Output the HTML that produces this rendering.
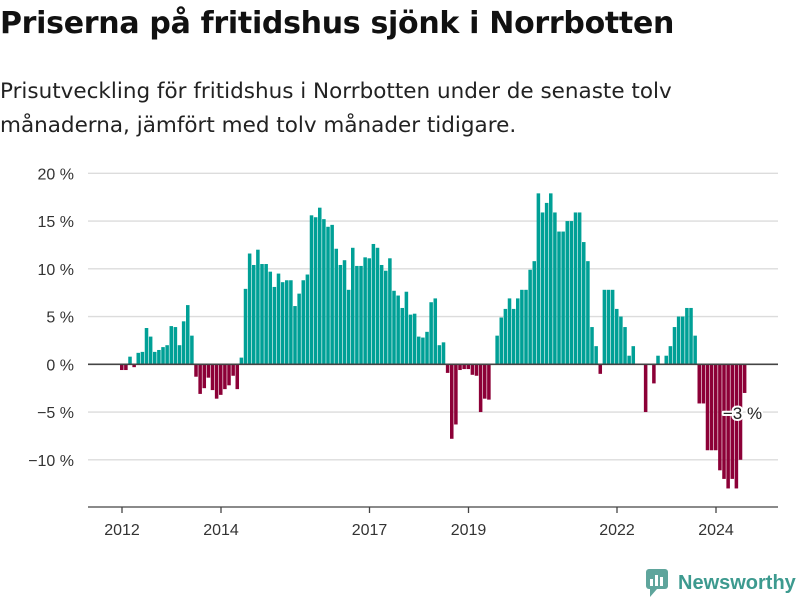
<!DOCTYPE html>
<html><head><meta charset="utf-8"><style>
body{margin:0;background:#fff;font-family:"Liberation Sans",sans-serif;}
#wrap{position:relative;width:800px;height:600px;overflow:hidden;}
h1{position:absolute;left:0;top:6px;margin:0;font-family:"DejaVu Sans",sans-serif;font-size:30px;font-weight:bold;color:#111;letter-spacing:-0.3px;white-space:nowrap;}
p.sub{position:absolute;left:0;top:75px;margin:0;font-family:"DejaVu Sans",sans-serif;font-size:21.5px;line-height:34px;color:#222;width:760px;white-space:nowrap;}
</style></head><body>
<div id="wrap">
<h1>Priserna på fritidshus sjönk i Norrbotten</h1>
<p class="sub">Prisutveckling för fritidshus i Norrbotten under de senaste tolv<br>månaderna, jämfört med tolv månader tidigare.</p>
<svg id="chart" width="800" height="600" style="position:absolute;left:0;top:0"></svg>
</div>
<script>
const startYear = 2012;
const values = [-0.6,-0.6,0.8,-0.3,1.2,1.3,3.8,2.9,1.3,1.5,1.8,2.0,4.0,3.9,2.0,4.5,6.2,3.0,-1.3,-3.1,-2.5,-1.4,-2.7,-3.6,-3.2,-2.6,-2.2,-1.2,-2.6,0.7,7.9,11.6,10.4,12.0,10.5,10.5,9.7,8.1,9.5,8.6,8.8,8.8,6.1,7.4,8.8,9.4,15.6,15.4,16.4,15.2,14.4,14.6,12.1,10.4,10.9,7.8,12.2,10.3,10.3,11.2,11.1,12.6,12.2,10.4,9.8,11.1,7.7,7.2,5.9,7.6,5.2,5.3,2.9,2.8,3.4,6.5,6.9,2.0,2.3,-0.9,-7.8,-6.3,-0.6,-0.5,-0.5,-1.1,-1.2,-5.0,-3.6,-3.7,0,3.0,4.9,5.8,6.9,5.8,6.9,7.8,7.8,9.9,10.8,17.9,15.9,16.9,17.9,15.9,13.9,13.9,15.0,15.0,15.9,15.9,12.8,10.8,3.9,1.9,-1.0,7.8,7.8,7.8,5.8,5.0,3.9,0.9,1.9,0,0,-5.0,0,-2.0,0.9,0,0.9,1.9,3.9,5.0,5.0,5.9,5.9,3.0,-4.1,-4.1,-9.0,-9.0,-9.0,-11.1,-12.0,-13.0,-12.0,-13.0,-10.0,-3.0];
const yTicks = [20,15,10,5,0,-5,-10];
const yTickLabels = ["20 %","15 %","10 %","5 %","0 %","\u22125 %","\u221210 %"];
const xTickYears = [2012,2014,2017,2019,2022,2024];
const lastLabel = "\u22123 %";

const NS="http://www.w3.org/2000/svg";
const svg=document.getElementById('chart');
const M=4.125;
function x(i){return 120+i*M;}
function y(v){return 364.3-v*9.55;}
function mk(t,a){const e=document.createElementNS(NS,t);for(const k in a)e.setAttribute(k,a[k]);svg.appendChild(e);return e;}
yTicks.forEach((t,k)=>{
  if(t!==0){const g=mk('line',{x1:88,x2:778,y1:y(t),y2:y(t),stroke:'#dcdcdc','stroke-width':1.3});
  
  }
  const l=mk('text',{x:74,y:y(t)+6,'text-anchor':'end','font-size':16,fill:'#333'});
  l.textContent=yTickLabels[k];
  
  
});
values.forEach((v,i)=>{
  const top=Math.min(y(v),y(0)),h=Math.abs(y(v)-y(0));
  const r=mk('rect',{x:x(i),y:top,width:M-0.6,height:h,fill:v>=0?'#00a096':'#8c0037'});
  
  
});
const z=mk('line',{x1:88,x2:778,y1:y(0),y2:y(0),stroke:'#444','stroke-width':1.6});


const ax=mk('line',{x1:88,x2:778,y1:507,y2:507,stroke:'#444','stroke-width':1.3});


xTickYears.forEach(yr=>{
  const cx=x((yr-startYear)*12)+2;
  const t=mk('line',{x1:cx,x2:cx,y1:507,y2:513,stroke:'#444','stroke-width':1.3});
  
  
  const l=mk('text',{x:cx,y:535,'text-anchor':'middle','font-size':16,fill:'#333'});
  l.textContent=yr;
  
  
});
const li=values.length-1;
const lab=mk('text',{x:x(li)-20,y:y(values[li])+26,'font-size':17,fill:'#222',stroke:'#fff','stroke-width':4,'paint-order':'stroke','stroke-linejoin':'round'});
lab.textContent=lastLabel;


</script>
<svg width="160" height="40" style="position:absolute;left:640px;top:563px">
<rect x="6" y="6" width="22" height="20" rx="3" fill="#5fa59c"/>
<polygon points="10,26 10,34 17,26" fill="#5fa59c"/>
<rect x="10" y="16" width="3" height="7" fill="#fff"/><rect x="15" y="12" width="3" height="11" fill="#fff"/><rect x="20" y="14" width="3" height="9" fill="#fff"/>
<text x="38" y="26" font-size="20" font-weight="bold" fill="#3d9a8f" font-family="Liberation Sans,sans-serif">Newsworthy</text>
</svg>
</body></html>
